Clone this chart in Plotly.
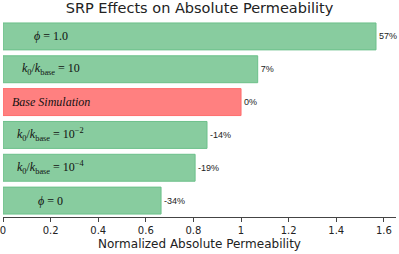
import plotly.graph_objects as go

labels = ["<i>ϕ</i> = 1.0",
          "<i>k</i><sub>0</sub>/<i>k</i><sub>base</sub> = 10",
          "<i>Base Simulation</i>",
          "<i>k</i><sub>0</sub>/<i>k</i><sub>base</sub> = 10<sup>−2</sup>",
          "<i>k</i><sub>0</sub>/<i>k</i><sub>base</sub> = 10<sup>−4</sup>",
          "<i>ϕ</i> = 0"]
values = [1.567, 1.07, 1.0, 0.857, 0.807, 0.664]
pct = ["57%", "7%", "0%", "-14%", "-19%", "-34%"]
cats = ["c%d" % i for i in range(len(values))]

fill = ["#88CC9F" if p != "0%" else "#FF8080" for p in pct]
edge = ["#6CC08A" if p != "0%" else "#FF6E6E" for p in pct]

fig = go.Figure(go.Bar(
    x=values, y=cats, orientation="h",
    marker=dict(color=fill, line=dict(color=edge, width=1)),
    width=0.82,
    text=pct, textposition="outside",
    textfont=dict(family="Liberation Sans, Arial", size=9, color="#222"),
    cliponaxis=False,
))

for c, lab in zip(cats, labels):
    fig.add_annotation(x=0.2, y=c, text=lab, showarrow=False, xanchor="center",
                       font=dict(family="Liberation Serif, DejaVu Serif, serif", size=12, color="#111"))

fig.update_layout(
    width=399, height=254,
    margin=dict(l=3, r=3, t=20, b=37),
    paper_bgcolor="white", plot_bgcolor="white",
    title=dict(text="SRP Effects on Absolute Permeability", x=0.5, xanchor="center", y=0.99, yanchor="top",
               font=dict(family="DejaVu Sans, Verdana", size=14.5, color="#222")),
    showlegend=False,
)
fig.update_xaxes(range=[0, 1.651], tickvals=[0, 0.2, 0.4, 0.6, 0.8, 1, 1.2, 1.4, 1.6],
                 ticktext=["0", "0.2", "0.4", "0.6", "0.8", "1", "1.2", "1.4", "1.6"],
                 showline=True, linecolor="#444", linewidth=1, ticks="outside", ticklen=4, tickcolor="#444",
                 showgrid=False, zeroline=False, automargin=False, ticklabeloverflow="allow",
                 tickfont=dict(family="DejaVu Sans, Verdana", size=10, color="#222"),
                 title=dict(text="Normalized Absolute Permeability", standoff=4,
                            font=dict(family="DejaVu Sans, Verdana", size=12, color="#222")))
fig.update_yaxes(autorange="reversed", showticklabels=False, showgrid=False, zeroline=False,
                 showline=False, ticks="", automargin=False)

fig.write_html("out.html", config={"displayModeBar": False},
               post_script="document.body.style.margin='0px';")
